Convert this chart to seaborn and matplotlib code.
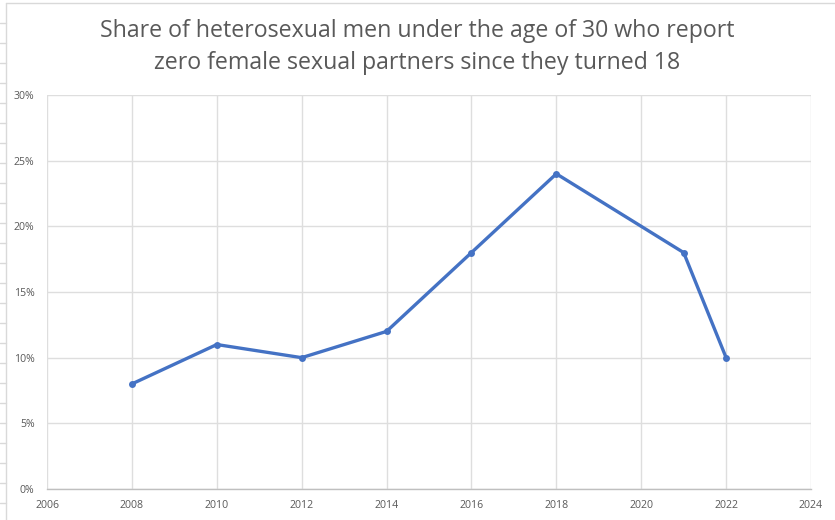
import matplotlib
matplotlib.use('Agg')
import matplotlib.pyplot as plt
from matplotlib.lines import Line2D
from matplotlib.ticker import PercentFormatter
import seaborn as sns
import pandas as pd

# values
years = [2008, 2010, 2012, 2014, 2016, 2018, 2021, 2022]
share = [8, 11, 10, 12, 18, 24, 18, 10]
x_ticks = [2006, 2008, 2010, 2012, 2014, 2016, 2018, 2020, 2022, 2024]
y_ticks = [0, 5, 10, 15, 20, 25, 30]
title = ('Share of heterosexual men under the age of 30 who report\n'
         'zero female sexual partners since they turned 18')

df = pd.DataFrame({'year': years, 'share': share})

sns.set_theme(style='white')
plt.rcParams['font.family'] = ['Open Sans', 'DejaVu Sans']

fig = plt.figure(figsize=(8.35, 5.2), dpi=100)
ax = fig.add_axes([47 / 835, 1 - 489 / 520, (811 - 47) / 835, (489 - 95) / 520])

sns.lineplot(data=df, x='year', y='share', ax=ax, color='#4472C4',
             linewidth=2.4, marker='o', markersize=5, markeredgewidth=0,
             zorder=3)

ax.set_xlim(2006, 2024)
ax.set_ylim(0, 30)
ax.set_xticks(x_ticks)
ax.set_yticks(y_ticks)
ax.yaxis.set_major_formatter(PercentFormatter(decimals=0))
ax.grid(True, color='#DEDEDE', linewidth=1)
ax.tick_params(axis='both', length=0, labelsize=7.6, colors='#595959')
ax.tick_params(axis='x', pad=8)
ax.tick_params(axis='y', pad=9)
ax.set_xlabel('')
ax.set_ylabel('')
for side in ['top', 'right', 'left']:
    ax.spines[side].set_visible(False)
ax.spines['bottom'].set_color('#BFBFBF')
ax.spines['bottom'].set_linewidth(1)

fig.text(0.5, 1 - 47 / 520, title, ha='center', va='center', fontsize=16.7,
         color='#595959', linespacing=1.4)

# chart border and spreadsheet cell lines behind it
fig.add_artist(Line2D([6 / 835, 6 / 835], [0, 1 - 3 / 520], color='#D9D9D9', lw=1))
fig.add_artist(Line2D([6 / 835, 1], [1 - 3 / 520, 1 - 3 / 520], color='#D9D9D9', lw=1))
for yy in range(23, 520, 20):
    fig.add_artist(Line2D([0, 6 / 835], [1 - yy / 520, 1 - yy / 520], color='#D9D9D9', lw=1))

fig.savefig('out.png', dpi=100)
